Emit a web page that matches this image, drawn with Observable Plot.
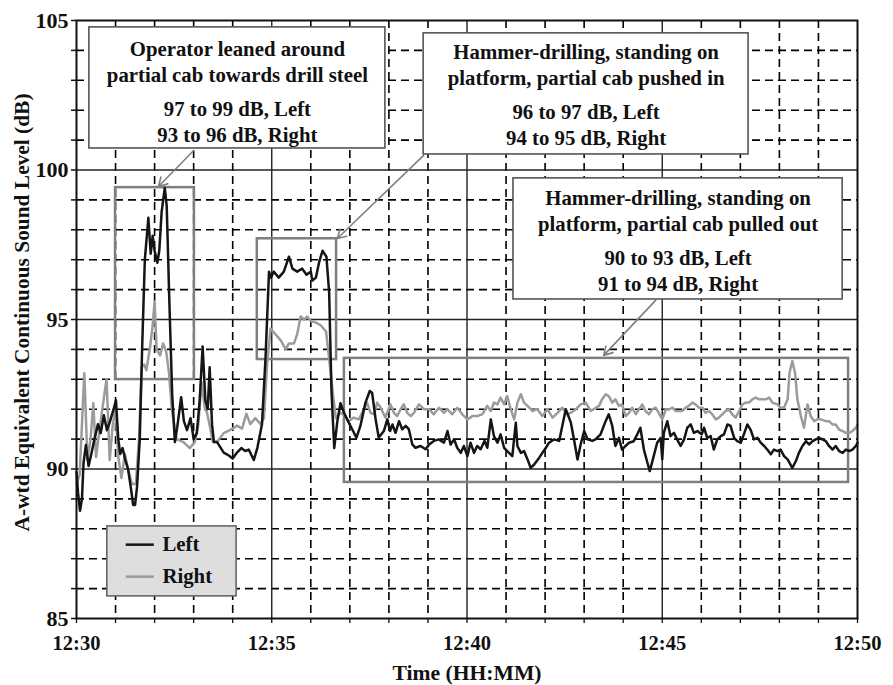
<!DOCTYPE html>
<html><head><meta charset="utf-8">
<script src="https://cdn.jsdelivr.net/npm/d3@7"></script>
<script src="https://cdn.jsdelivr.net/npm/@observablehq/plot@0.6"></script>
<style>
html,body{margin:0;padding:0;background:#fff;}
</style></head><body><div id="chart"></div>
<script>
// minutes after 12:30
const leftMin = [0,0.04,0.09,0.14,0.18,0.24,0.31,0.38,0.46,0.55,0.62,0.70,0.78,0.86,0.95,1.01,1.07,1.12,1.18,1.25,1.32,1.40,1.45,1.50,1.55,1.62,1.68,1.75,1.84,1.90,1.95,2.00,2.07,2.12,2.18,2.26,2.31,2.38,2.45,2.52,2.58,2.68,2.75,2.83,2.92,3.00,3.08,3.15,3.23,3.30,3.36,3.41,3.47,3.52,3.60,3.77,3.90,4.00,4.11,4.22,4.32,4.41,4.54,4.63,4.75,4.84,4.93,4.98,5.05,5.18,5.31,5.44,5.53,5.65,5.78,5.89,6.00,6.04,6.13,6.21,6.30,6.40,6.47,6.53,6.60,6.68,6.76,
6.85,6.93,7.06,7.17,7.27,7.40,7.51,7.57,7.66,7.74,7.87,7.96,8.03,8.09,8.17,8.26,8.34,8.43,8.51,8.60,8.68,8.81,8.94,9.03,9.15,9.28,9.41,9.50,9.58,9.67,9.75,9.84,9.92,10.01,10.09,10.18,10.26,10.35,10.45,10.52,10.61,10.69,10.78,10.86,10.95,11.03,11.16,11.25,11.29,11.38,11.46,11.55,11.63,11.72,11.85,11.93,12.02,12.10,12.23,12.36,12.44,12.53,12.66,12.74,12.83,12.91,13.00,13.09,13.21,
13.29,13.42,13.55,13.63,13.72,13.80,13.89,13.97,14.06,14.15,14.27,14.36,14.44,14.53,14.62,14.68,14.76,14.87,14.96,15.00,15.04,15.13,15.21,15.30,15.38,15.47,15.56,15.64,15.73,15.81,15.90,16.01,16.07,16.15,16.24,16.32,16.41,16.50,16.58,16.67,16.75,16.84,16.92,17.01,17.09,17.18,17.26,17.35,17.44,17.52,17.61,17.69,17.78,17.86,17.95,18.03,18.12,18.21,18.33,18.42,18.50,18.59,18.68,18.76,18.85,18.93,19.02,19.10,19.19,19.27,19.36,19.44,19.53,19.62,19.70,19.79,19.87,19.96,20.00];
const leftDb = [89.9,89.2,88.6,89.0,90.2,90.8,90.1,90.5,91.0,91.5,91.2,91.8,91.3,91.6,92.0,92.3,91.0,90.5,90.7,90.3,90.0,89.3,88.8,88.8,89.4,91.0,94.0,97.0,98.4,97.2,97.8,97.3,96.9,97.3,98.6,99.4,98.8,95.5,92.5,90.9,91.4,92.4,91.6,91.3,91.7,91.0,91.2,92.2,94.1,92.3,92.0,93.4,91.5,90.9,90.9,90.55,90.45,90.35,90.55,90.7,90.6,90.65,90.3,90.7,91.5,93.7,96.6,96.4,96.6,96.4,96.6,97.1,96.7,96.6,96.7,96.5,96.6,96.3,96.4,96.9,97.3,97.1,95.9,92.6,90.7,91.6,92.2,
91.88,91.66,91.33,91.05,91.44,92.22,92.61,92.55,91.66,91.05,91.27,91.66,91.27,91.49,91.21,91.6,91.33,91.44,91.33,90.82,90.71,90.77,90.66,90.82,90.94,90.99,90.88,91.27,90.82,90.99,90.71,90.54,90.77,90.43,90.88,90.54,90.77,90.66,90.94,90.71,91.66,91.10,90.88,91.16,90.71,90.60,90.43,91.55,90.77,90.54,90.60,90.32,90.04,90.15,90.38,90.54,90.71,90.88,90.99,90.94,91.44,92.0,91.55,90.99,90.32,90.82,91.27,90.99,90.94,
90.99,91.16,91.60,91.83,91.44,90.77,91.04,90.65,90.77,90.88,90.93,91.16,91.38,90.65,90.21,89.93,90.32,90.88,91.04,90.32,91.21,91.60,91.10,91.21,90.99,90.77,90.99,91.38,91.49,91.21,91.27,91.16,91.38,91.04,91.10,90.65,90.99,91.10,91.16,91.49,91.44,91.04,90.93,90.88,91.16,91.49,91.32,90.99,91.04,90.88,90.77,90.65,90.49,90.65,90.60,90.65,90.43,90.32,90.04,90.26,90.54,90.77,90.93,90.82,90.93,90.99,91.04,90.99,90.93,90.77,90.65,90.77,90.60,90.54,90.65,90.60,90.65,90.77,90.88];

const rightMin = [0,0.08,0.20,0.28,0.36,0.43,0.50,0.58,0.66,0.77,0.85,0.93,1.00,1.07,1.15,1.24,1.32,1.42,1.52,1.60,1.67,1.73,1.79,1.88,1.95,2.00,2.05,2.14,2.22,2.30,2.37,2.44,2.56,2.74,2.90,3.03,3.12,3.20,3.29,3.34,3.42,3.49,3.60,3.77,4.00,4.11,4.24,4.35,4.45,4.58,4.71,4.80,4.88,4.97,5.10,5.23,5.36,5.44,5.57,5.65,5.74,5.83,5.91,6.00,6.13,6.26,6.39,6.47,6.56,6.64,
6.76,6.89,6.97,7.10,7.23,7.36,7.44,7.53,7.62,7.70,7.79,7.91,8.04,8.13,8.21,8.30,8.38,8.47,8.56,8.64,8.77,8.90,9.03,9.15,9.28,9.41,9.50,9.62,9.75,9.88,10.01,10.14,10.26,10.39,10.52,10.61,10.69,10.78,10.86,10.95,11.03,11.12,11.21,11.29,11.38,11.46,11.55,11.68,11.80,11.93,12.06,12.19,12.32,12.44,12.57,12.66,12.79,12.91,13.04,13.17,13.30,
13.38,13.46,13.55,13.63,13.72,13.80,13.89,13.97,14.06,14.15,14.23,14.32,14.40,14.49,14.57,14.66,14.74,14.83,14.91,15.00,15.09,15.17,15.26,15.34,15.43,15.51,15.60,15.68,15.77,15.85,15.94,16.03,16.11,16.20,16.28,16.37,16.45,16.54,16.62,16.71,16.79,16.88,16.97,17.05,17.14,17.22,17.31,17.39,17.48,17.56,17.65,17.74,17.82,17.95,18.03,18.12,18.21,18.26,18.33,18.40,18.46,18.55,18.63,18.72,18.80,18.89,18.97,19.06,19.19,19.27,19.36,19.44,19.53,19.62,19.70,19.79,19.87,19.96,20.00];
const rightDb = [89.5,89.8,93.2,90.3,91.0,92.2,90.4,91.2,92.0,93.0,90.3,91.5,92.0,90.4,89.7,90.5,90.0,89.5,89.5,91.0,93.4,93.5,93.3,94.05,94.8,95.6,94.0,93.8,94.2,93.9,93.2,92.0,91.0,90.9,90.7,90.9,91.5,92.9,92.0,91.9,91.4,90.9,90.9,91.2,91.35,91.45,91.35,91.85,91.5,91.7,91.5,91.7,93.5,94.7,94.5,94.3,94.0,94.2,94.2,94.5,95.1,95.0,95.1,94.95,94.9,94.8,94.6,93.7,92.6,91.7,
91.88,91.77,91.60,91.72,91.66,92.0,92.22,91.88,91.83,92.22,92.05,91.72,92.16,91.88,91.77,92.0,92.16,91.88,91.77,91.88,92.16,92.0,92.0,91.83,92.05,91.88,92.0,91.83,92.05,91.83,91.66,91.77,91.77,91.83,92.11,91.94,92.22,92.16,92.39,92.16,92.44,92.0,91.66,92.22,92.50,92.22,92.11,91.94,92.0,91.77,92.0,91.72,91.88,92.05,91.83,91.88,92.0,92.16,92.22,91.94,92.05,
92.11,92.33,92.50,92.44,92.22,92.33,92.11,92.16,91.77,91.88,92.05,91.83,91.99,92.16,91.94,91.83,91.99,92.05,91.88,91.66,91.99,91.99,92.05,91.94,91.94,91.94,92.05,92.11,92.22,92.16,92.05,92.05,91.88,91.94,91.83,91.66,91.72,91.83,91.94,91.99,91.83,91.72,91.94,92.16,92.22,92.22,92.33,92.39,92.33,92.33,92.33,92.39,92.22,92.16,92.05,92.05,92.33,93.22,93.61,93.22,92.33,91.77,91.38,92.16,91.77,91.60,91.66,91.66,91.60,91.60,91.49,91.49,91.32,91.27,91.21,91.21,91.27,91.38,91.49];

const xTickMin = [0, 5, 10, 15, 20];
const xTickLabels = ["12:30", "12:35", "12:40", "12:45", "12:50"];
const yTickLabels = [85, 90, 95, 100, 105];

const seriesNames = ["Left", "Right"];
const seriesColors = ["#151515", "#9b9b9b"];

// highlighted periods (minutes, dB)
const periods = [
  {x1: 1.0, x2: 3.02, y1: 92.99, y2: 99.41},
  {x1: 4.63, x2: 6.66, y1: 93.66, y2: 97.7},
  {x1: 6.86, x2: 19.77, y1: 89.55, y2: 93.7}
];
const noteTitles = [
  "Operator leaned around\npartial cab towards drill steel",
  "Hammer-drilling, standing on\nplatform, partial cab pushed in",
  "Hammer-drilling, standing on\nplatform, partial cab pulled out"
];
const noteLevels = [
  "97 to 99 dB, Left\n93 to 96 dB, Right",
  "96 to 97 dB, Left\n94 to 95 dB, Right",
  "90 to 93 dB, Left\n91 to 94 dB, Right"
];
const noteBoxes = [
  {x1: 0.33, x2: 7.91, y1: 100.72, y2: 104.77, ty: 103.66, ly: 101.66},
  {x1: 8.89, x2: 17.21, y1: 100.52, y2: 104.57, ty: 103.54, ly: 101.56},
  {x1: 11.19, x2: 19.62, y1: 95.67, y2: 99.72, ty: 98.66, ly: 96.66}
];
const noteArrows = [
  {x1: 3.0, y1: 100.65, x2: 2.10, y2: 99.45},
  {x1: 8.89, y1: 100.49, x2: 6.68, y2: 97.71},
  {x1: 14.83, y1: 95.64, x2: 13.5, y2: 93.8}
];

const left = leftMin.map((m, i) => ({m, db: leftDb[i]}));
const right = rightMin.map((m, i) => ({m, db: rightDb[i]}));
const notes = noteBoxes.map((b, i) => ({...b, cx: (b.x1 + b.x2) / 2, title: noteTitles[i], levels: noteLevels[i]}));

const minor = d3.range(86, 105).filter(v => v % 5 !== 0);
const major = [90, 95, 100];
const minorX = d3.range(1, 20).filter(v => v % 5 !== 0);
const majorX = [5, 10, 15];

const legendBox = {x1: 0.79, x2: 4.10, y1: 85.74, y2: 88.08};
const legendRows = seriesNames.map((name, i) => ({name, color: seriesColors[i], y: [87.47, 86.40][i]}));

const FONT = "'Liberation Serif','Times New Roman',serif";

const chart = Plot.plot({
  width: 893, height: 685,
  marginLeft: 76, marginRight: 36, marginTop: 20, marginBottom: 67,
  style: {fontFamily: FONT, fontSize: "20px", fontWeight: "bold", background: "#fff", color: "#111"},
  x: {type: "linear", domain: [0, 20]},
  y: {domain: [85, 105]},
  marks: [
    Plot.ruleY(minor, {stroke: "#000", strokeWidth: 1.6, strokeDasharray: "8,5"}),
    Plot.ruleX(minorX, {stroke: "#000", strokeWidth: 1.6, strokeDasharray: "8,5"}),
    Plot.ruleY(major, {stroke: "#222", strokeWidth: 1.4}),
    Plot.ruleX(majorX, {stroke: "#222", strokeWidth: 1.4}),
    Plot.rect(periods, {x1: "x1", x2: "x2", y1: "y1", y2: "y2", fill: "none", stroke: "#7f7f7f", strokeWidth: 2.5}),
    Plot.line(right, {x: "m", y: "db", stroke: seriesColors[1], strokeWidth: 2.5}),
    Plot.line(left, {x: "m", y: "db", stroke: seriesColors[0], strokeWidth: 2.5}),
    Plot.arrow(noteArrows, {x1: "x1", y1: "y1", x2: "x2", y2: "y2", stroke: "#7f7f7f", strokeWidth: 1.6, headLength: 9}),
    Plot.rect(notes, {x1: "x1", x2: "x2", y1: "y1", y2: "y2", fill: "#fff", stroke: "#555", strokeWidth: 1.6}),
    Plot.text(notes, {x: "cx", y: "ty", text: "title", fontSize: 20.8, fontWeight: "bold", lineHeight: 1.25, fill: "#111"}),
    Plot.text(notes, {x: "cx", y: "ly", text: "levels", fontSize: 20.8, fontWeight: "bold", lineHeight: 1.25, fill: "#111"}),
    Plot.rect([legendBox], {x1: "x1", x2: "x2", y1: "y1", y2: "y2", fill: "#dedede", stroke: "#666", strokeWidth: 1.6}),
    Plot.link(legendRows, {x1: 1.26, x2: 1.98, y1: "y", y2: "y", stroke: "color", strokeWidth: 2.5}),
    Plot.text(legendRows, {x: 2.2, y: "y", text: "name", textAnchor: "start", fontSize: 20.8, fontWeight: "bold", fill: "#111"}),
    Plot.frame({stroke: "#111", strokeWidth: 2}),
    Plot.axisY(d3.range(85, 106), {tickSize: 5, tickPadding: 3, strokeWidth: 1.5, fontSize: 22, fontWeight: "bold",
      tickFormat: d => (yTickLabels.includes(d) ? String(d) : ""), label: null}),
    Plot.axisX(d3.range(0, 21), {tickSize: 5, tickPadding: 12, strokeWidth: 1.3, fontSize: 20.5, fontWeight: "bold",
      tickFormat: d => (xTickMin.includes(d) ? xTickLabels[xTickMin.indexOf(d)] : ""), label: null}),
    Plot.text(["A-wtd Equivalent Continuous Sound Level (dB)"], {frameAnchor: "left", textAnchor: "middle", dx: -54, dy: -7, rotate: -90, fontSize: 21.4, fontWeight: "bold", fill: "#111"}),
    Plot.text(["Time (HH:MM)"], {frameAnchor: "bottom", textAnchor: "middle", dy: 61, fontSize: 21.6, fontWeight: "bold", fill: "#111"})
  ]
});
document.getElementById("chart").appendChild(chart);
</script>
</body></html>
